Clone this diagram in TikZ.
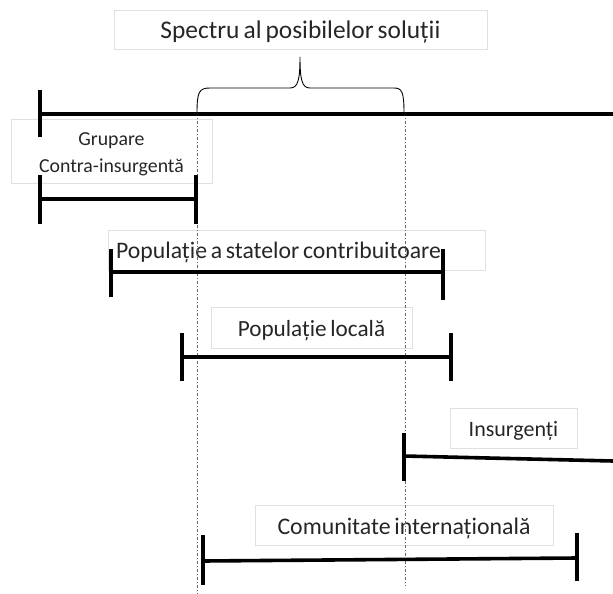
\documentclass[tikz,border=0pt]{standalone}
\usepackage{fontspec}
\setmainfont[WordSpace=0.7]{Carlito}
\newcommand{\dn}[1]{\raisebox{-3pt}[\height][\depth]{#1}}
\begin{document}
\begin{tikzpicture}[x=1pt,y=-1pt,
  lbl/.style={draw=black!12, line width=0.8pt, inner sep=0pt, text=black!85},
  lbltext/.style={inner sep=0pt, text=black!85},
  bar/.style={line width=3.6pt, line cap=butt},
  tick/.style={line width=3.6pt},
  guide/.style={draw=black!60, line width=0.8pt, dash pattern=on 3pt off 2pt on 1pt off 2pt},
  bracestyle/.style={line width=0.9pt}]
\useasboundingbox (0,0) rectangle (613,594);
% label boxes
\node[lbl, minimum width=373pt, minimum height=39pt, font=\fontsize{25.4}{28}\selectfont] (spec) at (300.5,29.5) {\dn{Spectru al posibilelor soluții}};
\node[lbl, minimum width=201pt, minimum height=64pt] (grup) at (111.5,151) {};
\node[lbltext, align=center, font=\fontsize{19.8}{27}\selectfont] (gruptext) at (111.5,154) {Grupare\\Contra-insurgentă};
\node[lbl, minimum width=377pt, minimum height=40pt] (pop) at (296.5,250) {};
\node[lbltext, anchor=base west, font=\fontsize{23.7}{26}\selectfont] (poptext) at (116,258.5) {Populație a statelor contribuitoare};
\node[lbl, minimum width=201pt, minimum height=41pt, font=\fontsize{23.2}{26}\selectfont] (loc) at (311.5,327.5) {\dn{Populație locală}};
\node[lbl, minimum width=127pt, minimum height=40pt, font=\fontsize{22}{26}\selectfont] (ins) at (513.5,428) {\dn{Insurgenți}};
\node[lbl, minimum width=298pt, minimum height=40pt, font=\fontsize{23.8}{26}\selectfont] (com) at (404,525) {\dn{Comunitate internațională}};
% guides
\coordinate (g1t) at (197,113); \coordinate (g1b) at (197,594);
\coordinate (g2t) at (405,113); \coordinate (g2b) at (405,586);
\draw[guide] (g1t) -- (g1b);
\draw[guide] (g2t) -- (g2b);
% main axis
\coordinate (a0) at (40,114); \coordinate (a1) at (613,114);
\draw[bar] (a0) -- (a1);
\draw[tick] (40,90) -- (40,137);
% brace
\draw[bracestyle] (197,113) .. controls (197,92) and (199,88) .. (210,88) -- (290,88)
  .. controls (298,88) and (300,80) .. (300,57)
  .. controls (300,80) and (302,88) .. (310,88) -- (394,88)
  .. controls (402,88) and (404,92) .. (404,113);
% Grupare segment
\coordinate (s1a) at (40,199); \coordinate (s1b) at (196,199);
\draw[bar] (s1a) -- (s1b);
\draw[tick] (40,175) -- (40,224);
\draw[tick] (196,175) -- (196,224);
% Populatie state
\coordinate (s2a) at (111,272); \coordinate (s2b) at (443,272);
\draw[bar] (s2a) -- (s2b);
\draw[tick] (111,249) -- (111,297);
\draw[tick] (443,249) -- (443,300);
% Populatie locala
\coordinate (s3a) at (182,357); \coordinate (s3b) at (451,357);
\draw[bar] (s3a) -- (s3b);
\draw[tick] (182,333) -- (182,381);
\draw[tick] (451,333) -- (451,381);
% Insurgenti
\coordinate (s4a) at (404,456); \coordinate (s4b) at (613,461);
\draw[bar] (s4a) -- (s4b);
\draw[tick] (404,433) -- (404,481);
% Comunitate
\coordinate (s5a) at (203,561); \coordinate (s5b) at (577,558);
\draw[bar] (s5a) -- (s5b);
\draw[tick] (203,535) -- (203,585);
\draw[tick] (577,533) -- (577,581);
\end{tikzpicture}
\end{document}
